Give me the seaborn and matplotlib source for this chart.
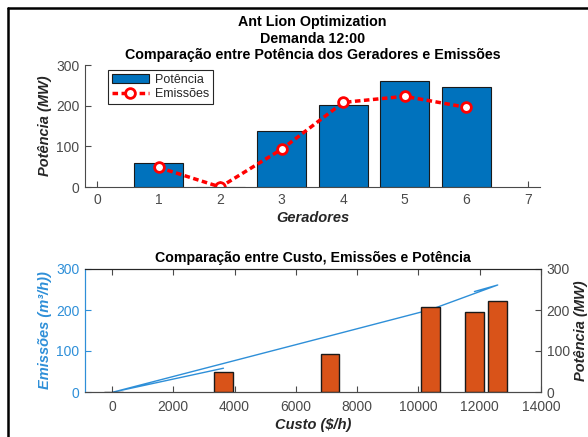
import matplotlib
matplotlib.use('Agg')
import matplotlib.pyplot as plt
import seaborn as sns
import pandas as pd
from matplotlib.lines import Line2D
from matplotlib.patches import Patch

# ---- data ----
geradores = [1, 2, 3, 4, 5, 6]
potencia = [58, 0, 137, 201, 261, 245]
emissoes = [48, 0, 93, 208, 223, 196]
custo = [3638, 50, 7113, 10400, 12587, 11827]

top_xticks = [0, 1, 2, 3, 4, 5, 6, 7]
yticks = [0, 100, 200, 300]
bottom_xticks = [0, 2000, 4000, 6000, 8000, 10000, 12000, 14000]

sns.set_theme(style='white')
plt.rcParams['font.family'] = ['Liberation Sans', 'DejaVu Sans']

BLUE_BAR = '#0072BD'
ORANGE = '#D95319'
AXBLUE = '#2E8FD8'
GRAY = '#4a4a4a'
DARK = '#262626'

df = pd.DataFrame({'Gerador': geradores, 'Potência': potencia,
                   'Emissões': emissoes, 'Custo': custo})

fig = plt.figure(figsize=(5.88, 4.37), dpi=100)

# ---------------- top chart ----------------
ax1 = fig.add_axes([85/588, 1-187/437, 455/588, 122/437])
sns.barplot(data=df, x='Gerador', y='Potência', native_scale=True, width=0.8,
            color=BLUE_BAR, saturation=1, edgecolor='#1a1a1a', linewidth=0.8,
            ax=ax1)
sns.lineplot(data=df, x='Gerador', y='Emissões', color='red',
             linestyle=(0, (1.6, 1.0)), linewidth=2.5, marker='o', markersize=7,
             markerfacecolor='white', markeredgecolor='red', markeredgewidth=2,
             ax=ax1)
ax1.set_xlim(-0.2, 7.2)
ax1.set_ylim(0, 300)
ax1.set_xticks(top_xticks)
ax1.set_xticklabels([str(t) for t in top_xticks])
ax1.set_yticks(yticks)
for s in ['top', 'right']:
    ax1.spines[s].set_visible(False)
for s in ['left', 'bottom']:
    ax1.spines[s].set_color(GRAY)
    ax1.spines[s].set_linewidth(0.8)
ax1.tick_params(direction='in', length=4, width=0.8, colors=GRAY, labelsize=10,
                left=True, bottom=True, pad=4)
ax1.set_xlabel('Geradores', fontsize=10.5, fontweight='bold', style='italic',
               color=DARK, labelpad=3)
ax1.set_ylabel('Potência (MW)', fontsize=10.5, fontweight='bold', style='italic',
               color=DARK, labelpad=3)
ax1.set_title('Ant Lion Optimization\nDemanda 12:00\n'
              'Comparação entre Potência dos Geradores e Emissões',
              fontsize=10.3, fontweight='bold', color='black', linespacing=1.25,
              pad=4)
handles = [Patch(facecolor=BLUE_BAR, edgecolor='#1a1a1a', linewidth=0.8),
           Line2D([], [], color='red', linestyle=(0, (1.6, 1.0)), linewidth=2.5,
                  marker='o', markersize=7, markerfacecolor='white',
                  markeredgecolor='red', markeredgewidth=2)]
leg = ax1.legend(handles, ['Potência', 'Emissões'], loc='upper left',
                 bbox_to_anchor=(0.05, 0.96), fontsize=9, frameon=True,
                 fancybox=False, edgecolor=DARK, framealpha=1,
                 handlelength=3.0, borderpad=0.3, labelspacing=0.2,
                 handletextpad=0.5, borderaxespad=0)
leg.get_frame().set_linewidth(0.8)

# ---------------- bottom chart ----------------
ax2 = fig.add_axes([85/588, 1-392/437, 456/588, 123/437])
sns.lineplot(data=df, x='Custo', y='Potência', sort=False, estimator=None,
             color=AXBLUE, linewidth=1.0, ax=ax2)
ax3 = ax2.twinx()
sns.barplot(data=df, x='Custo', y='Emissões', native_scale=True, width=0.8,
            color=ORANGE, saturation=1, edgecolor='#1a1a1a', linewidth=1.0,
            ax=ax3)
ax2.set_xlim(-880, 14000)
ax2.set_ylim(0, 300)
ax3.set_ylim(0, 300)
ax2.set_xticks(bottom_xticks)
ax2.set_xticklabels([str(t) for t in bottom_xticks])
ax2.set_yticks(yticks)
ax3.set_yticks(yticks)
ax3.set_xlabel('')
ax3.set_ylabel('Potência (MW)', fontsize=10.5, fontweight='bold', style='italic',
               color=DARK, labelpad=3)
ax2.set_xlabel('Custo (\\$/h)', fontsize=10.5, fontweight='bold', style='italic',
               color=DARK, labelpad=3)
ax2.set_ylabel('Emissões (m³/h))', fontsize=10.5, fontweight='bold',
               style='italic', color=AXBLUE, labelpad=3)
ax2.set_title('Comparação entre Custo, Emissões e Potência', fontsize=10.2,
              fontweight='bold', color='black', pad=5)

for ax in (ax2, ax3):
    for s in ax.spines.values():
        s.set_linewidth(0.8)
    ax.spines['left'].set_color(AXBLUE)
    ax.spines['right'].set_color(GRAY)
    ax.spines['top'].set_color(DARK)
    ax.spines['bottom'].set_color(GRAY)
ax2.tick_params(axis='x', direction='in', length=4, width=0.8, colors=GRAY,
                labelsize=10, top=True, bottom=True, pad=6)
ax2.tick_params(axis='y', direction='in', length=4, width=0.8, colors=AXBLUE,
                labelsize=10, left=True, pad=4)
ax3.tick_params(axis='y', direction='in', length=4, width=0.8, colors=GRAY,
                labelsize=10, right=True, left=False, pad=4)
ax3.tick_params(axis='x', top=False, bottom=False, labelbottom=False)

# figure frame (screenshot border)
fig.add_artist(Line2D([7.5/588, 7.5/588], [0, 1-8/437], transform=fig.transFigure,
                      color='black', linewidth=1.8))
fig.add_artist(Line2D([7.5/588, 1], [1-8/437, 1-8/437], transform=fig.transFigure,
                      color='black', linewidth=1.8))

fig.savefig('out.png', dpi=100)
